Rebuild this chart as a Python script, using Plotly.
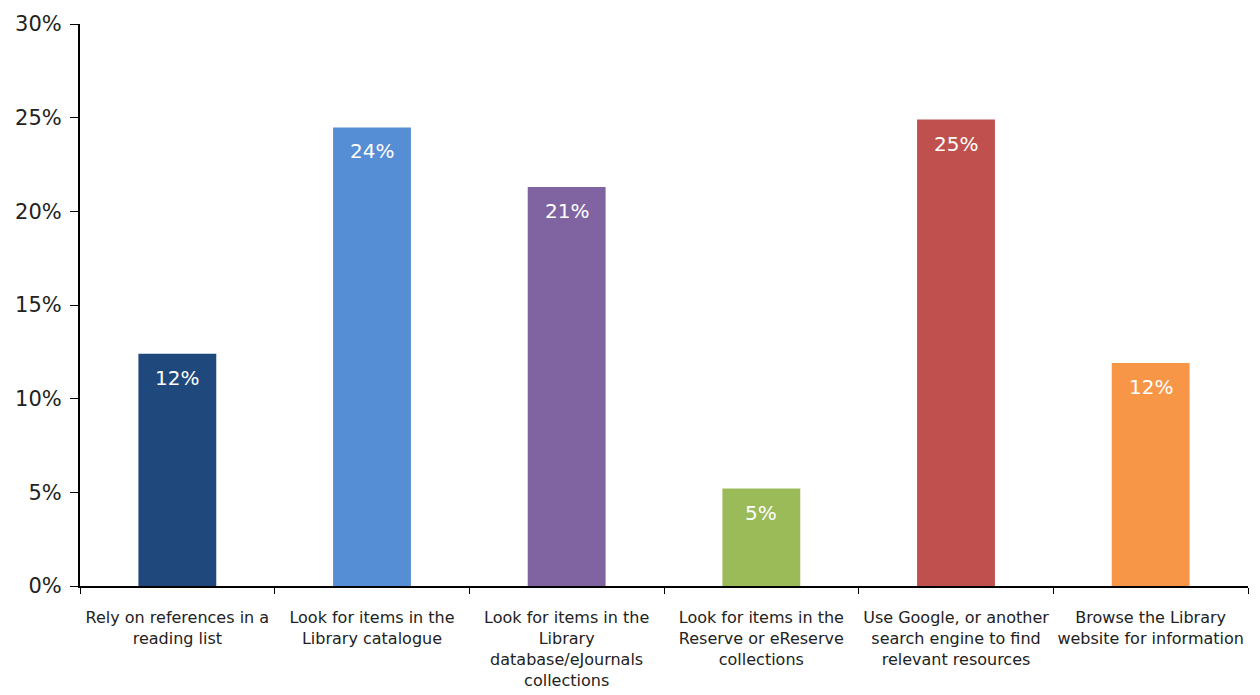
import plotly.graph_objects as go

categories = [
    "Rely on references in a<br>reading list",
    "Look for items in the<br>Library catalogue",
    "Look for items in the<br>Library<br>database/eJournals<br>collections",
    "Look for items in the<br>Reserve or eReserve<br>collections",
    "Use Google, or another<br>search engine to find<br>relevant resources",
    "Browse the Library<br>website for information",
]
shares = [0.124, 0.2448, 0.213, 0.052, 0.249, 0.119]
bar_colors = ["#1F497D", "#558ED5", "#8064A2", "#9BBB59", "#C0504D", "#F79646"]
y_ticks = [0, 0.05, 0.10, 0.15, 0.20, 0.25, 0.30]

font_family = "DejaVu Sans"

fig = go.Figure(
    go.Bar(
        x=categories,
        y=shares,
        marker=dict(color=bar_colors, line=dict(width=0)),
        width=0.4,
        hoverinfo="skip",
    )
)

# value labels sit just inside the top of each bar
for cat, val in zip(categories, shares):
    fig.add_annotation(
        x=cat, y=val, text=f"{val:.0%}", showarrow=False,
        yanchor="top", yshift=-10,
        font=dict(family=font_family, size=20, color="white"),
    )

fig.update_layout(
    width=1260, height=695,
    margin=dict(l=80, r=12, t=24, b=109, autoexpand=False),
    plot_bgcolor="white", paper_bgcolor="white",
    showlegend=False,
    font=dict(family=font_family, color="#222222"),
)
fig.update_xaxes(
    showline=True, linecolor="black", linewidth=2,
    ticks="outside", tickson="boundaries", ticklen=6, tickwidth=1, tickcolor="black",
    tickfont=dict(size=16, color="#222222"),
    tickangle=0, automargin=False,
    ticklabelstandoff=16,
    showgrid=False,
)
fig.update_yaxes(
    range=[0, 0.30], tickvals=y_ticks, tickformat=".0%",
    showline=True, linecolor="black", linewidth=2,
    ticks="outside", ticklen=8, tickwidth=1, tickcolor="black",
    tickfont=dict(size=21, color="#222222"),
    ticklabelstandoff=4, automargin=False,
    showgrid=False, zeroline=False,
)

fig.write_html("out.html")
